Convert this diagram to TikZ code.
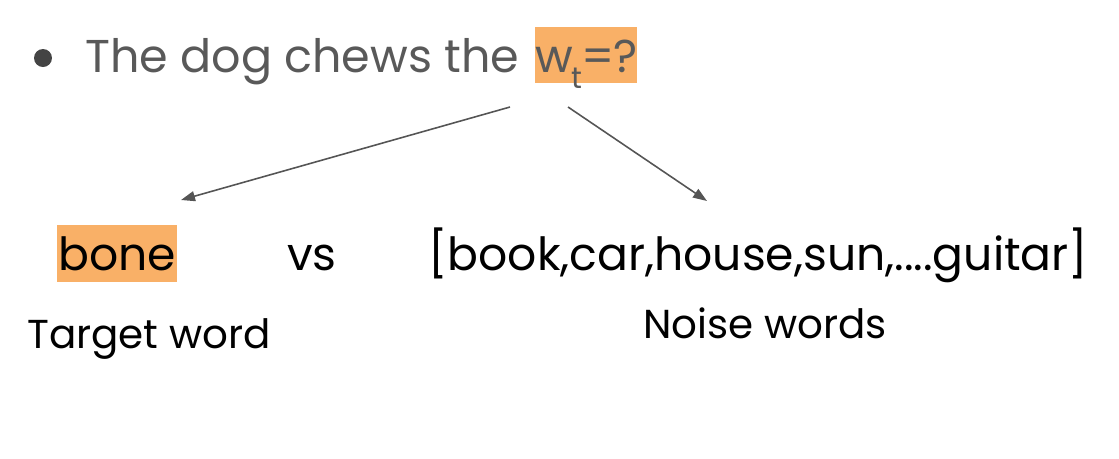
\documentclass[tikz,border=0pt]{standalone}
\usepackage{fontspec}
\setmainfont{Poppins}
\usetikzlibrary{arrows.meta}
\definecolor{hlorange}{HTML}{F9B067}
\definecolor{slidegray}{HTML}{595959}
\definecolor{dotgray}{HTML}{444444}
\definecolor{arrowgray}{HTML}{555555}
\begin{document}
\begin{tikzpicture}[x=0.02cm, y=-0.02cm,
  txt/.style={anchor=base west, inner sep=0pt},
  hl/.style={txt, fill=hlorange},
  head/.style={text=slidegray, font=\fontsize{26.2}{32}\selectfont},
  big/.style={font=\fontsize{26}{30}\selectfont},
  small/.style={font=\fontsize{23}{27}\selectfont},
  pointer/.style={draw=arrowgray, line width=0.9pt, -{Triangle[length=0.28cm,width=0.2cm]}}]
\useasboundingbox (0,0) rectangle (1119,458);
\node (dot) [circle, fill=dotgray, minimum size=0.36cm, inner sep=0pt] at (43,58) {};
\node (title) [txt, head] at (85,72) {The dog chews the};
\node (wt) [hl, head, text height=0.9cm, text depth=0.22cm, minimum width=1.94cm] at (535,72)
  {w\kern-0.8pt\raisebox{-9.5pt}{\fontsize{17}{17}\selectfont t}\kern-0.8pt=\kern-0.8pt?};
\node (bone) [hl, big, text height=0.9cm, text depth=0.24cm, minimum width=2.4cm] at (57,270) {bone};
\node (vs) [txt, big] at (287,270) {vs};
\node (noise) [txt, big] at (428,270) {[book,car,house,sun,....guitar]};
\node (target) [txt, small] at (27,348) {Target word};
\node (noiselabel) [txt, small] at (643,338) {Noise words};
\coordinate (from1) at (510,107);
\coordinate (to1) at (181,200);
\coordinate (from2) at (568,107);
\coordinate (to2) at (707,201);
\draw[pointer] (from1) -- (to1);
\draw[pointer] (from2) -- (to2);
\end{tikzpicture}
\end{document}
